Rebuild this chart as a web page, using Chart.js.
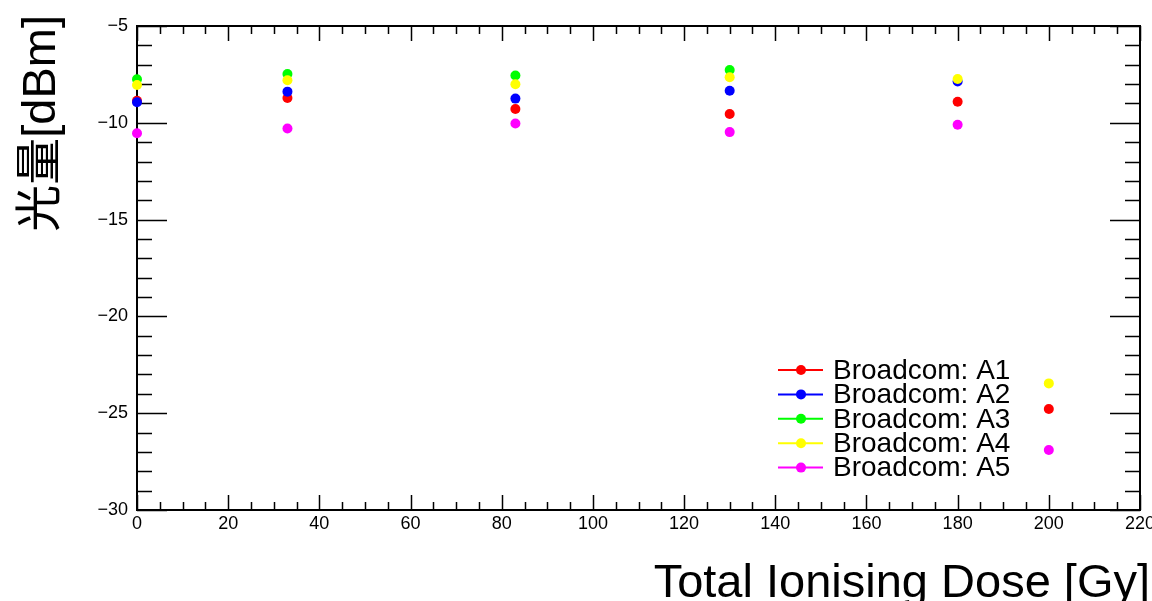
<!DOCTYPE html>
<html>
<head>
<meta charset="utf-8">
<script src="https://cdn.jsdelivr.net/npm/chart.js@4"></script>
<style>
  html, body { margin: 0; padding: 0; background: #fff; }
  canvas { display: block; }
</style>
</head>
<body>
<canvas id="grafico" width="1152" height="601"></canvas>
<script>
// datos
const doses = [0, 33, 83, 130, 180, 200];
const seriesNames = ["Broadcom: A1", "Broadcom: A2", "Broadcom: A3", "Broadcom: A4", "Broadcom: A5"];
const a1 = [-8.86, -8.72, -9.29, -9.55, -8.91, -24.78];
const a2 = [-8.94, -8.39, -8.75, -8.34, -7.87, null];
const a3 = [-7.75, -7.48, -7.56, -7.27, null, null];
const a4 = [-8.05, -7.80, -8.01, -7.65, -7.74, -23.46];
const a5 = [-10.54, -10.29, -10.04, -10.48, -10.10, -26.90];
const xTicks = [0, 20, 40, 60, 80, 100, 120, 140, 160, 180, 200, 220];
const yTicks = [-30, -25, -20, -15, -10, -5];

const colores = ["#ff0000", "#0000ff", "#00ff00", "#ffff00", "#ff00ff"];
const FONT = "'Liberation Sans', Arial, 'Noto Sans CJK SC', sans-serif";

function puntos(vals) {
    return doses.map((d, i) => ({ x: d, y: vals[i] })).filter(p => p.y !== null);
}

const datasets = [a1, a2, a3, a4, a5].map((vals, i) => ({
    label: seriesNames[i],
    data: puntos(vals),
    showLine: false,
    pointRadius: 5,
    pointHoverRadius: 5,
    pointBorderWidth: 0,
    backgroundColor: colores[i],
    borderColor: colores[i],
    order: 5 - i,   // la ultima serie queda encima, como en ROOT
    clip: false
}));

const menos = v => String(v).replace("-", "\u2212");

// marco, ticks hacia dentro (estilo ROOT) y titulos
const marcoPlugin = {
    id: "marco",
    beforeDatasetsDraw(chart) {
        const { ctx, chartArea: a, scales } = chart;
        const x = scales.x, y = scales.y;
        ctx.save();
        ctx.strokeStyle = "#000";
        ctx.lineWidth = 2;
        ctx.strokeRect(a.left, a.top, a.right - a.left, a.bottom - a.top);
        ctx.lineWidth = 1.5;
        ctx.beginPath();
        for (let v = 0; v <= 220; v += 5) {
            const px = Math.round(x.getPixelForValue(v)) + 0.5;
            const len = v % 20 === 0 ? 15 : 8;
            ctx.moveTo(px, a.bottom); ctx.lineTo(px, a.bottom - len);
            ctx.moveTo(px, a.top); ctx.lineTo(px, a.top + len);
        }
        for (let v = -30; v <= -5; v += 1) {
            const py = Math.round(y.getPixelForValue(v)) + 0.5;
            const len = v % 5 === 0 ? 30 : 15;
            ctx.moveTo(a.left, py); ctx.lineTo(a.left + len, py);
            ctx.moveTo(a.right, py); ctx.lineTo(a.right - len, py);
        }
        ctx.stroke();

        ctx.fillStyle = "#000";
        ctx.font = "47px " + FONT;
        ctx.textAlign = "right";
        ctx.textBaseline = "alphabetic";
        ctx.fillText("Total Ionising Dose [Gy]", 1150, 597);

        ctx.translate(42, 15);
        ctx.rotate(-Math.PI / 2);
        ctx.textBaseline = "middle";
        ctx.fillText("光量[dBm]", 0, 0);
        ctx.restore();
    },
    afterDraw(chart) {
        const { ctx } = chart;
        ctx.save();
        ctx.font = "28px " + FONT;
        ctx.textAlign = "left";
        ctx.textBaseline = "middle";
        chart.data.datasets.forEach((ds, i) => {
            const yy = 370 + i * 24.4;
            ctx.strokeStyle = ds.borderColor;
            ctx.lineWidth = 2;
            ctx.beginPath();
            ctx.moveTo(778, yy); ctx.lineTo(823, yy);
            ctx.stroke();
            ctx.fillStyle = ds.backgroundColor;
            ctx.beginPath();
            ctx.arc(801, yy, 5, 0, Math.PI * 2);
            ctx.fill();
            ctx.fillStyle = "#000";
            ctx.fillText(ds.label, 833, yy + 1);
        });
        ctx.restore();
    }
};

const chart = new Chart(document.getElementById("grafico").getContext("2d"), {
    type: "scatter",
    data: { datasets: datasets },
    options: {
        responsive: false,
        animation: false,
        devicePixelRatio: 1,
        layout: { padding: { top: 26, right: 12, left: 0, bottom: 0 } },
        plugins: { legend: { display: false }, tooltip: { enabled: false } },
        scales: {
            x: {
                type: "linear",
                min: 0,
                max: 220,
                afterBuildTicks: s => { s.ticks = xTicks.map(v => ({ value: v })); },
                afterFit: s => { s.height = 91; s.paddingLeft = 0; s.paddingRight = 0; },
                grid: { display: false, drawTicks: false },
                border: { display: false },
                ticks: {
                    color: "#000",
                    padding: 3,
                    maxRotation: 0,
                    autoSkip: false,
                    font: { family: FONT, size: 18 },
                    callback: menos
                }
            },
            y: {
                type: "linear",
                min: -30,
                max: -5,
                afterBuildTicks: s => { s.ticks = yTicks.map(v => ({ value: v })); },
                afterFit: s => { s.width = 137; s.paddingTop = 0; s.paddingBottom = 0; },
                grid: { display: false, drawTicks: false },
                border: { display: false },
                ticks: {
                    color: "#000",
                    padding: 9,
                    autoSkip: false,
                    font: { family: FONT, size: 18 },
                    callback: menos
                }
            }
        }
    },
    plugins: [marcoPlugin]
});
</script>
</body>
</html>
